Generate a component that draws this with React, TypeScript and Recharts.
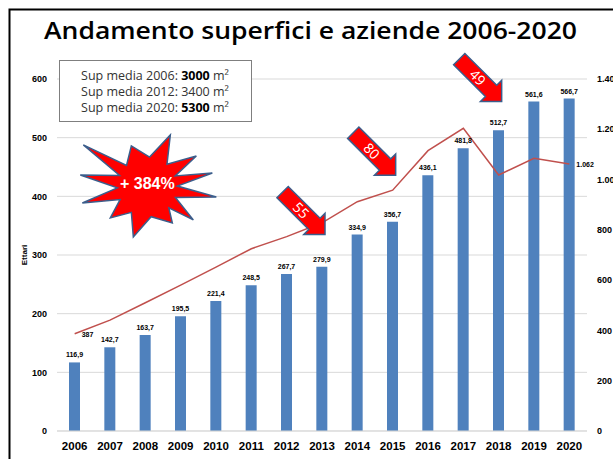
import {
  ComposedChart,
  Bar,
  Line,
  XAxis,
  YAxis,
  CartesianGrid,
  LabelList,
  ReferenceDot
} from 'recharts'

const years = ['2006', '2007', '2008', '2009', '2010', '2011', '2012', '2013', '2014', '2015', '2016', '2017', '2018', '2019', '2020']
// superficie (ettari), barre
const ettari = [116.9, 142.7, 163.7, 195.5, 221.4, 248.5, 267.7, 279.9, 334.9, 356.7, 436.1, 481.8, 512.7, 561.6, 566.7]
// numero aziende, linea (asse destro)
const aziende = [387, 441, 510, 580, 652, 725, 773, 828, 912, 958, 1115, 1204, 1018, 1085, 1062]

const leftTicks = [0, 100, 200, 300, 400, 500, 600]
const rightTicks = [0, 200, 400, 600, 800, 1000, 1200, 1400]

// frecce: incremento di superficie tra due anni
const jumps = [
  { from: '2013', to: '2014', label: '55' },
  { from: '2015', to: '2016', label: '80' },
  { from: '2018', to: '2019', label: '49' }
]

const supMedia = [
  { anno: '2006', valore: '3000', bold: true },
  { anno: '2012', valore: '3400', bold: false },
  { anno: '2020', valore: '5300', bold: true }
]

const data = years.map((y, i) => ({ year: y, ettari: ettari[i], aziende: aziende[i] }))

const FONT = '"Liberation Sans", Arial, sans-serif'

const fmtComma = (v: number) => v.toFixed(1).replace('.', ',')
const fmtThousands = (v: number) =>
  String(v).replace(/\B(?=(\d{3})+(?!\d))/g, '.')

// punte della stella rispetto al centro
const starTips = [
  [-64, -42], [-16, -41], [23, -52], [49, -31], [65, -14], [69, 10],
  [46, 33], [25, 36], [-14, 50], [-37, 31], [-65, 16], [-67, -12]
]

function starPath(cx: number, cy: number) {
  const pts: string[] = []
  starTips.forEach((t, i) => {
    const n = starTips[(i + 1) % starTips.length]
    pts.push(`${cx + t[0]},${cy + t[1]}`)
    const a = Math.atan2(t[1] + n[1], t[0] + n[0])
    pts.push(`${cx + Math.cos(a) * 30},${cy + Math.sin(a) * 30}`)
  })
  return pts.join(' ')
}

const Star = (props: any) => {
  const cx = props.cx + 2
  const cy = props.cy
  return (
    <g>
      <polygon points={starPath(cx, cy)} fill="#FF0000" stroke="#3B5E8C" strokeWidth={1.5} />
      <text x={cx} y={cy + 2} textAnchor="middle" fill="#fff" fontSize={16} fontWeight="bold" fontFamily={FONT}>
        + 384%
      </text>
    </g>
  )
}

const arrowShape = (label: string) => (props: any) => {
  const cx = props.cx + 3
  const cy = props.cy
  const pts = '0,0 -15,-15 -15,-8 -60,-8 -60,8 -15,8 -15,15'
  return (
    <g transform={`translate(${cx},${cy}) rotate(45)`}>
      <polygon points={pts} fill="#FF0000" stroke="#3B5E8C" strokeWidth={1.5} strokeLinejoin="miter" />
      <text x={-34} y={5} textAnchor="middle" fill="#fff" fontSize={14} fontFamily={'"Open Sans", sans-serif'}>
        {label}
      </text>
    </g>
  )
}

const lineLabel = (props: any) => {
  const { x, y, value, index } = props
  if (index !== 0 && index !== aziende.length - 1) return null
  return (
    <text x={x + 7} y={y + 3} fontSize={7} fontWeight="bold" fontFamily={FONT} fill="#000">
      {fmtThousands(value)}
    </text>
  )
}

export default function App() {
  return (
    <div style={{ position: 'absolute', left: 0, top: 0, width: 613, height: 459, background: '#fff' }}>
      <ComposedChart
        width={613}
        height={459}
        data={data}
        margin={{ top: 79, right: 0, bottom: 0, left: 0 }}
      >
        <CartesianGrid vertical={false} stroke="#D9D9D9" yAxisId="left" />
        <XAxis
          dataKey="year"
          height={28}
          tickLine={false}
          axisLine={{ stroke: '#D9D9D9' }}
          tickMargin={5}
          tick={{ fontSize: 11.5, fontWeight: 'bold', fontFamily: FONT, fill: '#000' }}
          interval={0}
        />
        <YAxis
          yAxisId="left"
          width={57}
          domain={[0, 600]}
          ticks={leftTicks}
          axisLine={false}
          tickLine={false}
          tickMargin={4}
          tick={{ fontSize: 9, fontWeight: 'bold', fontFamily: FONT, fill: '#000' }}
        />
        <YAxis
          yAxisId="right"
          orientation="right"
          width={26}
          domain={[0, 1400]}
          ticks={rightTicks}
          axisLine={false}
          tickLine={false}
          tickMargin={4}
          tickFormatter={fmtThousands}
          tick={{ fontSize: 9, fontWeight: 'bold', fontFamily: FONT, fill: '#000', textAnchor: 'start' }}
        />
        <Bar yAxisId="left" dataKey="ettari" fill="#4F81BD" barSize={11} isAnimationActive={false}>
          <LabelList
            dataKey="ettari"
            position="top"
            offset={5}
            formatter={(v: any) => fmtComma(Number(v))}
            style={{ fontSize: 7, fontWeight: 'bold', fontFamily: FONT, fill: '#000' }}
          />
        </Bar>
        <Line
          yAxisId="right"
          dataKey="aziende"
          stroke="#C0504D"
          strokeWidth={1.5}
          dot={false}
          type="linear"
          isAnimationActive={false}
        >
          <LabelList dataKey="aziende" content={lineLabel} />
        </Line>
        <ReferenceDot yAxisId="left" x="2008" y={416} r={0} shape={Star} />
        {jumps.map((j) => (
          <ReferenceDot
            key={j.label}
            yAxisId="left"
            x={j.from}
            y={ettari[years.indexOf(j.to)]}
            r={0}
            shape={arrowShape(j.label)}
          />
        ))}
      </ComposedChart>

      <svg width={613} height={459} style={{ position: 'absolute', left: 0, top: 0, pointerEvents: 'none' }}>
        <rect x={9.5} y={9.5} width={700} height={700} fill="none" stroke="#000" strokeWidth={2} />
        <text
          x={310.5}
          y={38.5}
          textAnchor="middle"
          fontSize={24}
          fontWeight={600}
          fontFamily={'"Open Sans", sans-serif'}
          textLength={533}
          lengthAdjust="spacingAndGlyphs"
          fill="#000"
        >
          Andamento superfici e aziende 2006-2020
        </text>
        <rect x={59.5} y={60.5} width={192} height={61} fill="#fff" stroke="#7F7F7F" strokeWidth={1} />
        {supMedia.map((s, i) => (
          <text
            key={s.anno}
            x={155}
            y={79.5 + i * 16}
            textAnchor="middle"
            fontSize={12.5}
            fontFamily={'"Open Sans", sans-serif'}
            fill="#333"
          >
            {`Sup media ${s.anno}: `}
            <tspan fontWeight={s.bold ? 'bold' : 'normal'} fill={s.bold ? '#000' : '#333'}>{s.valore}</tspan>
            {' m²'}
          </text>
        ))}
        <text
          x={27}
          y={255}
          transform="rotate(-90 27 255)"
          textAnchor="middle"
          fontSize={8}
          fontWeight="bold"
          fontFamily={FONT}
          fill="#000"
        >
          Ettari
        </text>
      </svg>
    </div>
  )
}
